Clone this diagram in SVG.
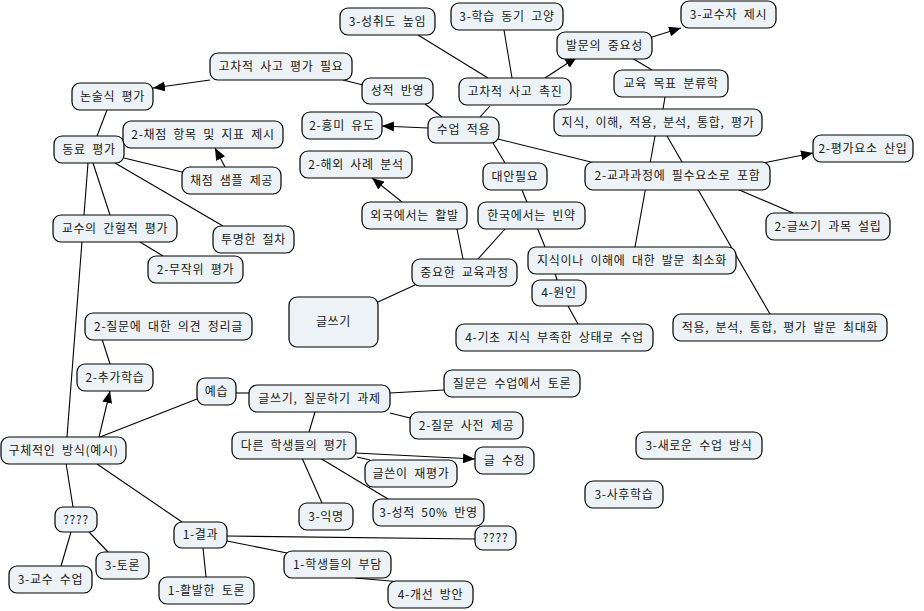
<svg xmlns="http://www.w3.org/2000/svg" width="924" height="611" viewBox="0 0 924 611">
<style>
.n rect{fill:#ecf2f5;stroke:#000;stroke-width:1.2}
.n text{font-family:"Noto Sans CJK KR","Noto Sans",sans-serif;font-size:12px;fill:#1a1a1a;text-anchor:middle;letter-spacing:0.7px;word-spacing:3px}
.c line{stroke:#000;stroke-width:1.1}
.c .a{marker-end:url(#ah)}
</style>
<defs>
<marker id="ah" viewBox="0 0 12 10" refX="12" refY="5" markerWidth="12" markerHeight="10" markerUnits="userSpaceOnUse" orient="auto">
<path d="M0,0 L12,5 L0,10 Z" fill="#000"/>
</marker>
</defs>
<rect width="924" height="611" fill="#fff"/>
<g id="connectors" class="c">
<line x1="418" y1="35" x2="488" y2="78"/>
<line x1="504" y1="30" x2="512" y2="78"/>
<line x1="632" y1="58" x2="652" y2="70"/>
<line x1="665" y1="97" x2="663" y2="109"/>
<line x1="490" y1="106" x2="480" y2="117"/>
<line x1="425" y1="104" x2="442" y2="117"/>
<line x1="343" y1="80" x2="363" y2="85"/>
<line x1="498" y1="139" x2="595" y2="163"/>
<line x1="493" y1="143" x2="505" y2="163"/>
<line x1="522" y1="190" x2="545" y2="247"/>
<line x1="505" y1="229" x2="478" y2="259"/>
<line x1="457" y1="229" x2="463" y2="259"/>
<line x1="415" y1="285" x2="378" y2="302"/>
<line x1="655" y1="136" x2="635" y2="247"/>
<line x1="667" y1="136" x2="770" y2="314"/>
<line x1="737" y1="189" x2="793" y2="213"/>
<line x1="555" y1="273" x2="557" y2="280"/>
<line x1="568" y1="306" x2="578" y2="324"/>
<line x1="107" y1="110" x2="97" y2="136"/>
<line x1="124" y1="158" x2="182" y2="172"/>
<line x1="115" y1="163" x2="223" y2="226"/>
<line x1="93" y1="163" x2="110" y2="215"/>
<line x1="88" y1="163" x2="67" y2="437"/>
<line x1="140" y1="242" x2="163" y2="256"/>
<line x1="102" y1="339" x2="110" y2="364"/>
<line x1="100" y1="437" x2="197" y2="399"/>
<line x1="236" y1="393" x2="249" y2="393"/>
<line x1="390" y1="393" x2="444" y2="390"/>
<line x1="390" y1="413" x2="410" y2="418"/>
<line x1="315" y1="412" x2="309" y2="432"/>
<line x1="357" y1="457" x2="370" y2="460"/>
<line x1="302" y1="458" x2="322" y2="503"/>
<line x1="320" y1="458" x2="388" y2="499"/>
<line x1="66" y1="463" x2="73" y2="507"/>
<line x1="71" y1="532" x2="61" y2="566"/>
<line x1="89" y1="532" x2="108" y2="552"/>
<line x1="97" y1="464" x2="182" y2="522"/>
<line x1="203" y1="548" x2="206" y2="577"/>
<line x1="227" y1="541" x2="287" y2="553"/>
<line x1="227" y1="536" x2="475" y2="539"/>
<line x1="355" y1="578" x2="402" y2="582"/>
<line class="a" x1="545" y1="78" x2="577" y2="57"/>
<line class="a" x1="652" y1="37" x2="681" y2="28"/>
<line class="a" x1="210" y1="80" x2="153" y2="88"/>
<line class="a" x1="428" y1="128" x2="382" y2="126"/>
<line class="a" x1="402" y1="202" x2="372" y2="178"/>
<line class="a" x1="763" y1="163" x2="813" y2="153"/>
<line class="a" x1="225" y1="167" x2="215" y2="148"/>
<line class="a" x1="99" y1="437" x2="110" y2="391"/>
<line class="a" x1="355" y1="453" x2="475" y2="459"/>
</g>
<g id="n1" class="n"><rect x="340" y="8" width="95" height="27" rx="8"/><text x="387.5" y="25.5">3-성취도 높임</text></g>
<g id="n2" class="n"><rect x="451" y="3" width="112" height="27" rx="8"/><text x="507" y="20.5">3-학습 동기 고양</text></g>
<g id="n3" class="n"><rect x="681" y="1" width="95" height="27" rx="8"/><text x="728.5" y="18.5">3-교수자 제시</text></g>
<g id="n4" class="n"><rect x="557" y="32" width="95" height="27" rx="8"/><text x="604.5" y="49.5">발문의 중요성</text></g>
<g id="n5" class="n"><rect x="614" y="70" width="114" height="27" rx="8"/><text x="671" y="87.5">교육 목표 분류학</text></g>
<g id="n6" class="n"><rect x="554" y="109" width="208" height="27" rx="8"/><text x="658" y="126.5">지식, 이해, 적용, 분석, 통합, 평가</text></g>
<g id="n7" class="n"><rect x="813" y="135" width="100" height="27" rx="8"/><text x="863" y="152.5">2-평가요소 산입</text></g>
<g id="n8" class="n"><rect x="585" y="162" width="185" height="28" rx="8"/><text x="677.5" y="180">2-교과과정에 필수요소로 포함</text></g>
<g id="n9" class="n"><rect x="766" y="213" width="124" height="27" rx="8"/><text x="828" y="230.5">2-글쓰기 과목 설립</text></g>
<g id="n10" class="n"><rect x="528" y="247" width="208" height="27" rx="8"/><text x="632" y="264.5">지식이나 이해에 대한 발문 최소화</text></g>
<g id="n11" class="n"><rect x="673" y="314" width="214" height="27" rx="8"/><text x="780" y="331.5">적용, 분석, 통합, 평가 발문 최대화</text></g>
<g id="n12" class="n"><rect x="532" y="280" width="54" height="26" rx="8"/><text x="559" y="297">4-원인</text></g>
<g id="n13" class="n"><rect x="456" y="324" width="197" height="27" rx="8"/><text x="554.5" y="341.5">4-기초 지식 부족한 상태로 수업</text></g>
<g id="n14" class="n"><rect x="289" y="297" width="89" height="50" rx="8"/><text x="333.5" y="326">글쓰기</text></g>
<g id="n15" class="n"><rect x="412" y="259" width="105" height="27" rx="8"/><text x="464.5" y="276.5">중요한 교육과정</text></g>
<g id="n16" class="n"><rect x="362" y="202" width="105" height="27" rx="8"/><text x="414.5" y="219.5">외국에서는 활발</text></g>
<g id="n17" class="n"><rect x="478" y="202" width="107" height="27" rx="8"/><text x="531.5" y="219.5">한국에서는 빈약</text></g>
<g id="n18" class="n"><rect x="483" y="163" width="64" height="27" rx="8"/><text x="515" y="180.5">대안필요</text></g>
<g id="n19" class="n"><rect x="300" y="151" width="112" height="27" rx="8"/><text x="356" y="168.5">2-해외 사례 분석</text></g>
<g id="n20" class="n"><rect x="302" y="112" width="80" height="27" rx="8"/><text x="342" y="129.5">2-흥미 유도</text></g>
<g id="n21" class="n"><rect x="428" y="117" width="71" height="26" rx="8"/><text x="463.5" y="134">수업 적용</text></g>
<g id="n22" class="n"><rect x="362" y="78" width="71" height="26" rx="8"/><text x="397.5" y="95">성적 반영</text></g>
<g id="n23" class="n"><rect x="459" y="78" width="112" height="27" rx="8"/><text x="515" y="95.5">고차적 사고 촉진</text></g>
<g id="n24" class="n"><rect x="210" y="53" width="142" height="27" rx="8"/><text x="281" y="70.5">고차적 사고 평가 필요</text></g>
<g id="n25" class="n"><rect x="72" y="83" width="81" height="27" rx="8"/><text x="112.5" y="100.5">논술식 평가</text></g>
<g id="n26" class="n"><rect x="54" y="136" width="70" height="27" rx="8"/><text x="89" y="153.5">동료 평가</text></g>
<g id="n27" class="n"><rect x="123" y="121" width="160" height="27" rx="8"/><text x="203" y="138.5">2-채점 항목 및 지표 제시</text></g>
<g id="n28" class="n"><rect x="182" y="167" width="99" height="27" rx="8"/><text x="231.5" y="184.5">채점 샘플 제공</text></g>
<g id="n29" class="n"><rect x="53" y="215" width="124" height="27" rx="8"/><text x="115" y="232.5">교수의 간헐적 평가</text></g>
<g id="n30" class="n"><rect x="213" y="226" width="81" height="27" rx="8"/><text x="253.5" y="243.5">투명한 절차</text></g>
<g id="n31" class="n"><rect x="148" y="256" width="95" height="27" rx="8"/><text x="195.5" y="273.5">2-무작위 평가</text></g>
<g id="n32" class="n"><rect x="85" y="313" width="167" height="27" rx="8"/><text x="168.5" y="330.5">2-질문에 대한 의견 정리글</text></g>
<g id="n33" class="n"><rect x="77" y="364" width="76" height="27" rx="8"/><text x="115" y="381.5">2-추가학습</text></g>
<g id="n34" class="n"><rect x="197" y="378" width="39" height="27" rx="8"/><text x="216.5" y="395.5">예습</text></g>
<g id="n35" class="n"><rect x="249" y="385" width="141" height="27" rx="8"/><text x="319.5" y="402.5">글쓰기, 질문하기 과제</text></g>
<g id="n36" class="n"><rect x="444" y="370" width="136" height="27" rx="8"/><text x="512" y="387.5">질문은 수업에서 토론</text></g>
<g id="n37" class="n"><rect x="410" y="412" width="113" height="27" rx="8"/><text x="466.5" y="429.5">2-질문 사전 제공</text></g>
<g id="n38" class="n"><rect x="232" y="432" width="124" height="27" rx="8"/><text x="294" y="449.5">다른 학생들의 평가</text></g>
<g id="n39" class="n"><rect x="475" y="447" width="59" height="27" rx="8"/><text x="504.5" y="464.5">글 수정</text></g>
<g id="n40" class="n"><rect x="365" y="460" width="92" height="27" rx="8"/><text x="411" y="477.5">글쓴이 재평가</text></g>
<g id="n41" class="n"><rect x="299" y="503" width="54" height="27" rx="8"/><text x="326" y="520.5">3-익명</text></g>
<g id="n42" class="n"><rect x="373" y="499" width="111" height="27" rx="8"/><text x="428.5" y="516.5">3-성적 50% 반영</text></g>
<g id="n43" class="n"><rect x="475" y="526" width="41" height="24" rx="8"/><text x="495.5" y="542">????</text></g>
<g id="n44" class="n"><rect x="284" y="551" width="107" height="27" rx="8"/><text x="337.5" y="568.5">1-학생들의 부담</text></g>
<g id="n45" class="n"><rect x="388" y="581" width="85" height="27" rx="8"/><text x="430.5" y="598.5">4-개선 방안</text></g>
<g id="n46" class="n"><rect x="174" y="522" width="53" height="26" rx="8"/><text x="200.5" y="539">1-결과</text></g>
<g id="n47" class="n"><rect x="159" y="577" width="95" height="27" rx="8"/><text x="206.5" y="594.5">1-활발한 토론</text></g>
<g id="n48" class="n"><rect x="55" y="507" width="42" height="25" rx="8"/><text x="76" y="523.5">????</text></g>
<g id="n49" class="n"><rect x="96" y="552" width="53" height="27" rx="8"/><text x="122.5" y="569.5">3-토론</text></g>
<g id="n50" class="n"><rect x="9" y="566" width="83" height="27" rx="8"/><text x="50.5" y="583.5">3-교수 수업</text></g>
<g id="n51" class="n"><rect x="1" y="437" width="125" height="27" rx="8"/><text x="63.5" y="454.5">구체적인 방식(예시)</text></g>
<g id="n52" class="n"><rect x="636" y="432" width="126" height="27" rx="8"/><text x="699" y="449.5">3-새로운 수업 방식</text></g>
<g id="n53" class="n"><rect x="585" y="481" width="78" height="27" rx="8"/><text x="624" y="498.5">3-사후학습</text></g>
</svg>
